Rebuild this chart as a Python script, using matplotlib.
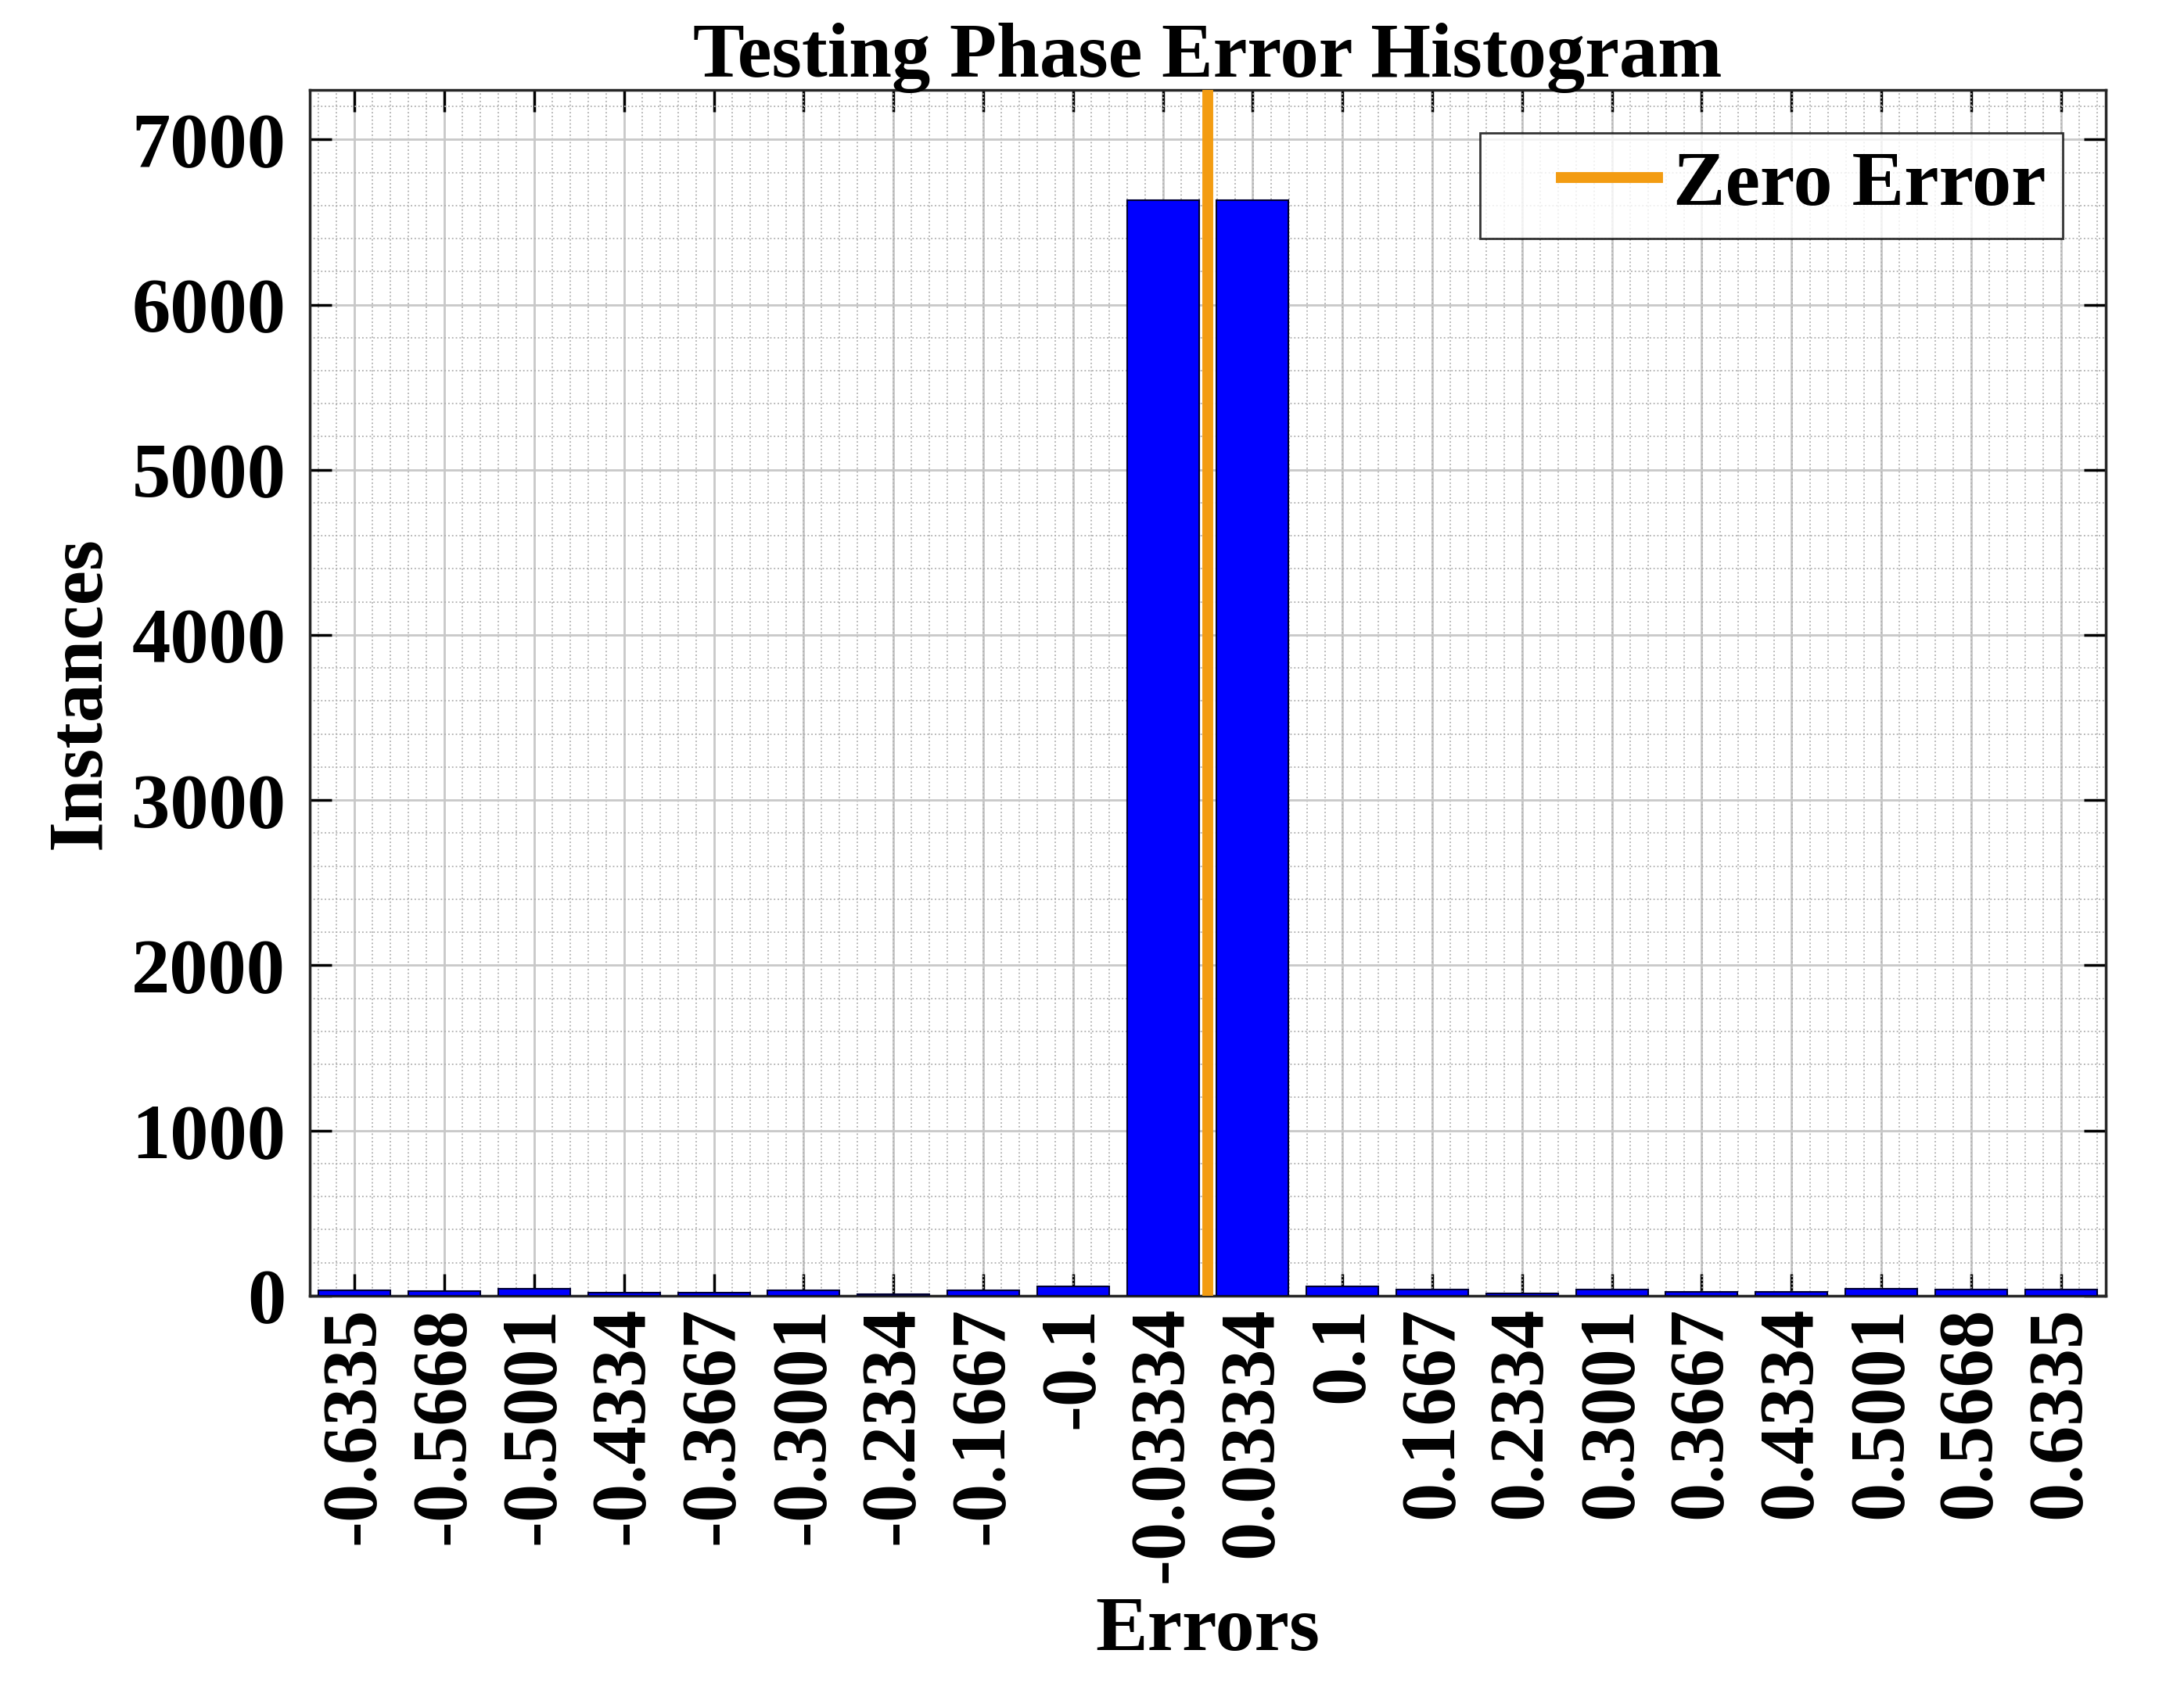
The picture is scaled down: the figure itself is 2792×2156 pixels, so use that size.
import numpy as np
import matplotlib
matplotlib.use("Agg")
import matplotlib.pyplot as plt
from matplotlib.ticker import AutoMinorLocator
from matplotlib.legend_handler import HandlerLine2D

# bin centers and counts
binCenters = [-0.6335, -0.5668, -0.5001, -0.4334, -0.3667, -0.3001, -0.2334, -0.1667, -0.1, -0.03334,
              0.03334, 0.1, 0.1667, 0.2334, 0.3001, 0.3667, 0.4334, 0.5001, 0.5668, 0.6335]
binLabels = ['-0.6335', '-0.5668', '-0.5001', '-0.4334', '-0.3667', '-0.3001', '-0.2334', '-0.1667', '-0.1', '-0.03334',
             '0.03334', '0.1', '0.1667', '0.2334', '0.3001', '0.3667', '0.4334', '0.5001', '0.5668', '0.6335']
instances = [32, 28, 41, 19, 19, 32, 11, 32, 54, 6630,
             6630, 56, 37, 14, 37, 22, 22, 43, 35, 35]
yTicks = [0, 1000, 2000, 3000, 4000, 5000, 6000, 7000]

plt.rcParams['font.family'] = ['Liberation Serif', 'DejaVu Serif']
plt.rcParams['font.weight'] = 'bold'


class GapLineHandler(HandlerLine2D):
    # matlab style legend: empty space left of the line sample
    def get_xdata(self, legend, xdescent, ydescent, width, height, fontsize):
        xdata = [-xdescent + 0.4 * width, -xdescent + width]
        return xdata, [-xdescent + 0.7 * width]


binWidth = binCenters[1] - binCenters[0]

fig = plt.figure(figsize=(27.92, 21.56), dpi=100)
ax = fig.add_axes([0.1418, 0.2315, 0.8224, 0.7152])

ax.bar(binCenters, instances, width=0.8 * binWidth, color='#0000FF', edgecolor='#000033',
       linewidth=1.5, zorder=3)
zeroLine = ax.axvline(0, color='#F39C12', linewidth=10, zorder=4, label='Zero Error')

ax.set_xlim(binCenters[0] - binWidth / 2, binCenters[-1] + binWidth / 2)
ax.set_ylim(0, 7300)
ax.set_xticks(binCenters)
ax.set_xticklabels(binLabels, rotation=90, fontsize=71, fontweight='bold')
ax.set_yticks(yTicks)
ax.set_yticklabels([str(v) for v in yTicks], fontsize=71, fontweight='bold')

ax.xaxis.set_minor_locator(AutoMinorLocator(5))
ax.yaxis.set_minor_locator(AutoMinorLocator(5))
ax.tick_params(which='major', direction='in', length=20, width=2.5, top=True, right=True)
ax.tick_params(axis='x', pad=10)
ax.tick_params(axis='y', pad=22)
ax.tick_params(which='minor', length=0)
ax.grid(which='major', color='#c8c8c8', linewidth=2, linestyle='-', zorder=0)
ax.grid(which='minor', color='#b0b0b0', linewidth=1.3, linestyle=':', zorder=0)
ax.set_axisbelow(True)
for s in ax.spines.values():
    s.set_linewidth(2.5)
    s.set_color('#262626')

ax.set_title('Testing Phase Error Histogram', fontsize=71, fontweight='bold', pad=12)
ax.set_xlabel('Errors', fontsize=72, fontweight='bold', labelpad=12)
ax.set_ylabel('Instances', fontsize=72, fontweight='bold', labelpad=14)

leg = ax.legend(handles=[zeroLine], loc='upper right', fontsize=72, frameon=True, fancybox=False,
                handlelength=2.05, handletextpad=0.2, borderaxespad=0.55, borderpad=0.22,
                handler_map={zeroLine: GapLineHandler()})
leg.get_frame().set_edgecolor('black')
leg.get_frame().set_linewidth(2)
for t in leg.get_texts():
    t.set_fontweight('bold')

plt.savefig('out.png', dpi=100)
